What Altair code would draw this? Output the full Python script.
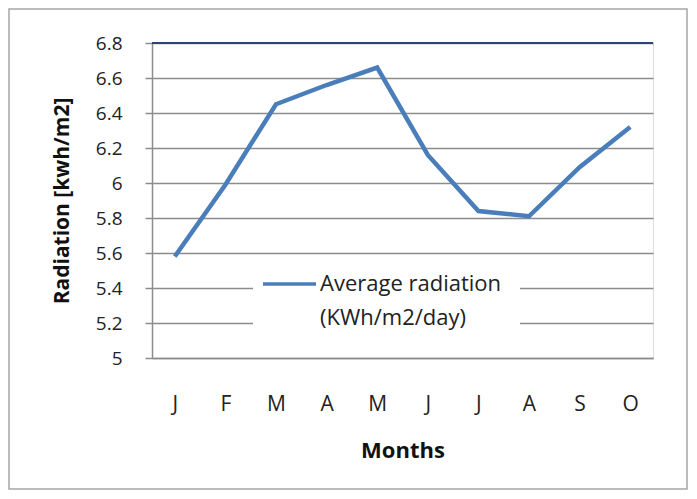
import json
import altair as alt
import pandas as pd

months = ["J", "F", "M", "A", "M", "J", "J", "A", "S", "O"]
radiation = [5.58, 5.99, 6.45, 6.56, 6.66, 6.16, 5.84, 5.81, 6.09, 6.32]
y_ticks = [5.0, 5.2, 5.4, 5.6, 5.8, 6.0, 6.2, 6.4, 6.6, 6.8]
legend_lines = ["Average radiation", "(KWh/m2/day)"]
x_title = "Months"
y_title = "Radiation [kwh/m2]"

FONT = "Open Sans"
W, H = 501, 315
LINE_COLOR = "#4a7ebb"
GRID = "#8c8c8c"
TXT = "#222222"

df = pd.DataFrame({"idx": list(range(len(months))), "value": radiation,
                   "top": [y_ticks[-1]] * len(months)})

label_expr = json.dumps(months) + "[datum.value]"

x_enc = alt.X(
    "idx:O",
    scale=alt.Scale(type="point", padding=0.45),
    axis=alt.Axis(
        title=x_title, labelExpr=label_expr, labelAngle=0, ticks=False,
        domainColor=GRID, domainWidth=1.5, labelPadding=35,
        labelFont=FONT, labelFontSize=21, labelColor=TXT,
        titleFont=FONT, titleFontSize=22, titleFontWeight="bold",
        titlePadding=26, titleColor="#111111", grid=False,
    ),
)


def make_y(field):
    return alt.Y(
        field + ":Q",
        scale=alt.Scale(domain=[5.0, 6.8], nice=False, zero=False),
        axis=alt.Axis(
            title=y_title, values=y_ticks, labelOverlap=False, labelBound=False,
            labelExpr="toString(round(datum.value*10)/10)",
            grid=True, gridColor=GRID, gridWidth=1.5,
            domainColor=GRID, domainWidth=1.5,
            tickColor=GRID, tickSize=7, tickWidth=1.5, labelPadding=23,
            labelFont=FONT, labelFontSize=19, labelColor=TXT,
            titleFont=FONT, titleFontSize=21, titleFontWeight="bold",
            titlePadding=23, titleColor="#111111",
        ),
    )


line = alt.Chart(df).mark_line(color=LINE_COLOR, strokeWidth=4.5, strokeJoin="miter").encode(
    x=x_enc, y=make_y("value")
)

top_rule = alt.Chart(df).mark_rule(color="#2b4574", strokeWidth=1.5).encode(
    y=make_y("top"), x=alt.value(0), x2=alt.value(W)
)

one = alt.Data(values=[{"k": 0}])

outer_border = alt.Chart(one).mark_rect(
    fill=None, stroke="#a6a6a6", strokeWidth=1.5, clip=False
).encode(x=alt.value(-143), x2=alt.value(535), y=alt.value(-34), y2=alt.value(446))

legend_box = alt.Chart(one).mark_rect(fill="white", stroke=None).encode(
    x=alt.value(101), x2=alt.value(368), y=alt.value(224), y2=alt.value(292)
)
legend_sym = alt.Chart(one).mark_rule(color=LINE_COLOR, strokeWidth=3.5).encode(
    x=alt.value(111), x2=alt.value(164), y=alt.value(241)
)
legend_t1 = alt.Chart(one).mark_text(
    text=legend_lines[0], align="left", baseline="middle", font=FONT, fontSize=22, color=TXT
).encode(x=alt.value(168), y=alt.value(241))
legend_t2 = alt.Chart(one).mark_text(
    text=legend_lines[1], align="left", baseline="middle", font=FONT, fontSize=22, color=TXT
).encode(x=alt.value(168), y=alt.value(275))

chart = alt.layer(
    outer_border, line, legend_box, top_rule, legend_sym, legend_t1, legend_t2
).properties(
    width=W, height=H,
    autosize=alt.AutoSizeParams(type="none"),
    padding={"left": 144, "top": 35, "right": 36, "bottom": 132},
).configure_view(stroke="#b9cde5", strokeWidth=1.5).configure(background="white")

chart.save("out.html", embed_options={"renderer": "svg", "actions": False})
